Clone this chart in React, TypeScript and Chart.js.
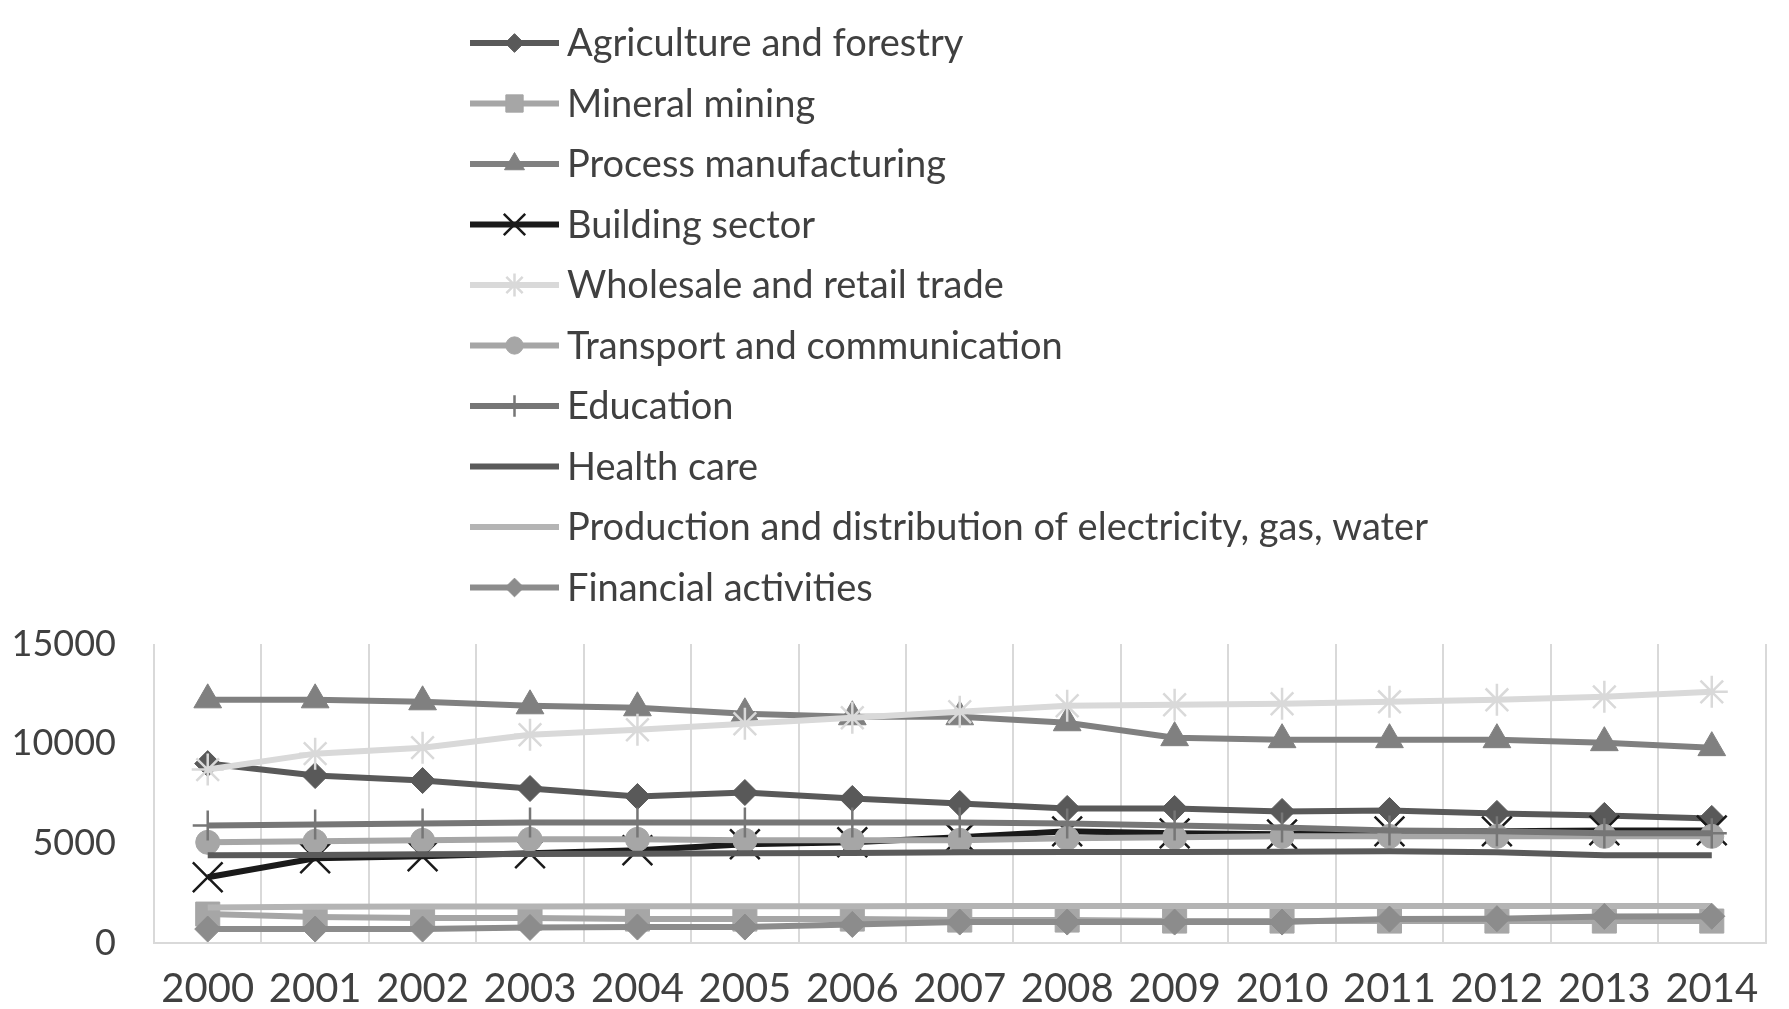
import React, { useEffect, useRef } from 'react';
import { Chart, registerables } from 'chart.js';
import { drawPoint } from 'chart.js/helpers';

Chart.register(...registerables);

// Years on the category axis
const years = ['2000', '2001', '2002', '2003', '2004', '2005', '2006', '2007', '2008', '2009', '2010', '2011', '2012', '2013', '2014'];

// Value axis range
const yMin = 0;
const yMax = 15000;
const yStep = 5000;

// Series (one value per year)
const agriculture = [9000, 8400, 8150, 7750, 7350, 7550, 7250, 7000, 6750, 6750, 6600, 6650, 6500, 6400, 6250];
const mining = [1450, 1300, 1250, 1250, 1200, 1200, 1200, 1150, 1150, 1100, 1100, 1100, 1100, 1100, 1100];
const processing = [12200, 12200, 12100, 11900, 11800, 11500, 11350, 11350, 11050, 10300, 10200, 10200, 10200, 10050, 9800];
const building = [3300, 4250, 4350, 4500, 4650, 4950, 5050, 5300, 5600, 5500, 5450, 5600, 5600, 5650, 5650];
const wholesale = [8700, 9500, 9800, 10450, 10700, 11000, 11300, 11600, 11900, 11950, 12000, 12100, 12200, 12350, 12600];
const transport = [5050, 5100, 5150, 5200, 5200, 5150, 5150, 5150, 5250, 5300, 5350, 5350, 5350, 5350, 5350];
const education = [5900, 5950, 6000, 6050, 6050, 6050, 6050, 6050, 6000, 5900, 5800, 5650, 5600, 5500, 5500];
const health = [4400, 4420, 4450, 4470, 4480, 4500, 4520, 4550, 4570, 4570, 4580, 4600, 4550, 4400, 4400];
const electricity = [1780, 1820, 1830, 1830, 1840, 1840, 1840, 1850, 1850, 1850, 1850, 1860, 1860, 1860, 1860];
const financial = [700, 700, 700, 780, 800, 800, 930, 1050, 1050, 1050, 1050, 1200, 1220, 1330, 1340];

const seriesNames = [
  'Agriculture and forestry',
  'Mineral mining',
  'Process manufacturing',
  'Building sector',
  'Wholesale and retail trade',
  'Transport and communication',
  'Education',
  'Health care',
  'Production and distribution of electricity, gas, water',
  'Financial activities',
];

const FONT = 'Lato, "Open Sans", sans-serif';
const TEXT_COLOR = '#404040';

// Legend geometry (stacked single column above the plot)
const LEGEND_TOP = 43;
const LEGEND_STEP = 60.5;
const LEGEND_LINE_X0 = 470;
const LEGEND_LINE_X1 = 559;
const LEGEND_TEXT_X = 567;

const columnLegend = {
  id: 'columnLegend',
  afterDraw(chart: any) {
    const ctx = chart.ctx;
    ctx.save();
    chart.data.datasets.forEach((ds: any, i: number) => {
      const y = LEGEND_TOP + i * LEGEND_STEP;
      ctx.strokeStyle = ds.borderColor;
      ctx.lineWidth = 6;
      ctx.lineCap = 'butt';
      ctx.beginPath();
      ctx.moveTo(LEGEND_LINE_X0, y);
      ctx.lineTo(LEGEND_LINE_X1, y);
      ctx.stroke();
      if (ds.pointRadius > 0) {
        ctx.fillStyle = ds.pointBackgroundColor;
        ctx.strokeStyle = ds.pointBorderColor;
        ctx.lineWidth = ds.pointBorderWidth;
        drawPoint(ctx, {
          pointStyle: ds.pointStyle,
          radius: ds.pointRadius * 0.72,
          borderWidth: ds.pointBorderWidth,
          rotation: 0,
        }, (LEGEND_LINE_X0 + LEGEND_LINE_X1) / 2, y);
      }
      ctx.fillStyle = TEXT_COLOR;
      ctx.font = `38px ${FONT}`;
      ctx.textAlign = 'left';
      ctx.textBaseline = 'middle';
      ctx.fillText(ds.label, LEGEND_TEXT_X, y + 1);
    });
    ctx.restore();
  },
};

function line(label: string, data: number[], color: string, style: any, radius: number, idx: number) {
  return {
    label,
    data,
    borderColor: color,
    borderWidth: 6,
    pointStyle: style,
    pointRadius: radius,
    pointHoverRadius: radius,
    pointBackgroundColor: color,
    pointBorderColor: color,
    pointBorderWidth: style === 'star' || style === 'cross' || style === 'crossRot' ? 2.5 : 1,
    tension: 0,
    fill: false,
    // later series are painted on top of earlier ones
    order: 20 - idx,
  };
}

export default function App() {
  const canvasRef = useRef<HTMLCanvasElement | null>(null);

  useEffect(() => {
    document.body.style.margin = '0';
    const canvas = canvasRef.current;
    if (!canvas) return;
    const chart = new Chart(canvas, {
      type: 'line',
      data: {
        labels: years,
        datasets: [
          line(seriesNames[0], agriculture, '#595959', 'rectRot', 13, 0),
          line(seriesNames[1], mining, '#a6a6a6', 'rect', 17, 1),
          line(seriesNames[2], processing, '#808080', 'triangle', 16, 2),
          line(seriesNames[3], building, '#1a1a1a', 'crossRot', 21, 3),
          line(seriesNames[4], wholesale, '#d9d9d9', 'star', 16, 4),
          line(seriesNames[5], transport, '#a6a6a6', 'circle', 12, 5),
          line(seriesNames[6], education, '#767676', 'cross', 15, 6),
          line(seriesNames[7], health, '#5a5a5a', 'circle', 0, 7),
          line(seriesNames[8], electricity, '#b4b4b4', 'circle', 0, 8),
          line(seriesNames[9], financial, '#8c8c8c', 'rectRot', 13, 9),
        ],
      },
      options: {
        responsive: false,
        devicePixelRatio: 1,
        animation: false,
        layout: { padding: { top: 644, left: 0, right: 8, bottom: 0 } },
        plugins: {
          legend: { display: false },
          tooltip: { enabled: false },
          title: { display: false },
        },
        scales: {
          x: {
            offset: true,
            grid: { display: true, offset: true, color: '#d9d9d9', lineWidth: 2, drawTicks: false },
            border: { display: true, color: '#d9d9d9', width: 2 },
            ticks: { color: TEXT_COLOR, font: { family: FONT, size: 40 }, padding: 22, maxRotation: 0, autoSkip: false },
            afterFit: (scale: any) => { scale.height = 66; },
          },
          y: {
            min: yMin,
            max: yMax,
            grid: { display: false, drawTicks: false },
            border: { display: false },
            ticks: {
              stepSize: yStep,
              color: TEXT_COLOR,
              font: { family: FONT, size: 36 },
              padding: 38,
              callback: (v: any) => String(v),
            },
            afterFit: (scale: any) => { scale.width = 154; },
          },
        },
      },
      plugins: [columnLegend],
    });
    return () => chart.destroy();
  }, []);

  return (
    <div style={{ width: 1789, height: 1009, background: '#fff' }}>
      <canvas ref={canvasRef} width={1789} height={1009} style={{ display: 'block' }} />
    </div>
  );
}
